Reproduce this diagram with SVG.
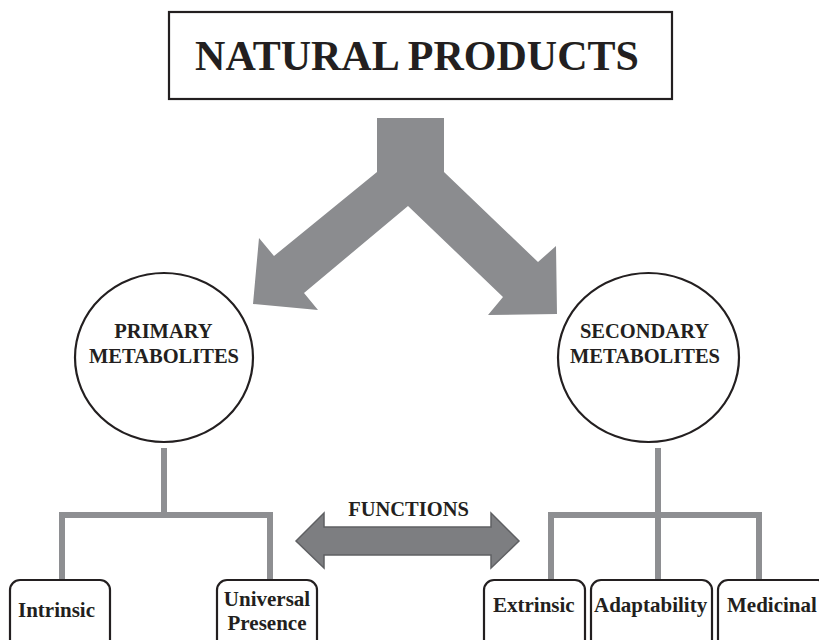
<svg xmlns="http://www.w3.org/2000/svg" width="819" height="640" viewBox="0 0 819 640">
<style>
text{font-family:"Liberation Serif","Times New Roman",serif;font-weight:bold;fill:#231f20;}
.box{fill:#fff;stroke:#231f20;stroke-width:2.2;}
.leaf{fill:#fff;stroke:#231f20;stroke-width:2.2;}
.line{stroke:#8e8f92;stroke-width:6;fill:none;stroke-linecap:butt;}
.big{fill:#8b8c8f;}
.lbl{font-size:20.5px;text-anchor:middle;}
.leaftxt{font-size:21px;}
</style>
<rect width="819" height="640" fill="#fff"/>
<g id="natural-products">
<rect class="box" x="169" y="12" width="503" height="87"/>
<text x="417" y="70" font-size="42" text-anchor="middle">NATURAL PRODUCTS</text>
</g>
<g id="connectors">
<path class="big" d="M377,118 L444,118 L444,172 L538,262 L556,246 L557,314 L488,315 L503,297 L408,206 L304,293 L318,310 L253,304 L259,238 L274,256 L377,172 Z"/>
<path class="line" d="M164,448 V515 M59,515 H273 M62,515 V579 M270,515 V579"/>
<path class="line" d="M658,448 V579 M548,515 H762 M551,515 V579 M759,515 V579"/>
<path d="M296,541 L324,513 L324,527 L491,527 L491,513 L519,541 L491,568 L491,555 L324,555 L324,568 Z" fill="#7d7e81" stroke="#5f6063" stroke-width="1.5" stroke-linejoin="miter"/>
<text class="lbl" x="408.5" y="516">FUNCTIONS</text>
</g>
<g id="primary">
<ellipse cx="164" cy="357.5" rx="89" ry="84.5" fill="#fff" stroke="#231f20" stroke-width="2.2"/>
<text class="lbl" x="163.5" y="338">PRIMARY</text>
<text class="lbl" x="164" y="363">METABOLITES</text>
</g>
<g id="secondary">
<ellipse cx="648.5" cy="357.5" rx="90.5" ry="84.5" fill="#fff" stroke="#231f20" stroke-width="2.2"/>
<text class="lbl" x="644.5" y="338">SECONDARY</text>
<text class="lbl" x="645" y="363">METABOLITES</text>
</g>
<g id="intrinsic">
<rect class="leaf" x="10" y="580" width="100" height="75" rx="10"/>
<text class="leaftxt" x="18" y="617">Intrinsic</text>
</g>
<g id="universal-presence">
<rect class="leaf" x="217" y="580" width="100" height="75" rx="10"/>
<text class="leaftxt" x="267" y="606" text-anchor="middle">Universal</text>
<text class="leaftxt" x="267" y="630" text-anchor="middle">Presence</text>
</g>
<g id="extrinsic">
<rect class="leaf" x="484" y="580" width="101" height="75" rx="10"/>
<text class="leaftxt" x="493" y="612">Extrinsic</text>
</g>
<g id="adaptability">
<rect class="leaf" x="591" y="580" width="121" height="75" rx="10"/>
<text class="leaftxt" x="594" y="612">Adaptability</text>
</g>
<g id="medicinal">
<rect class="leaf" x="718" y="580" width="110" height="75" rx="10"/>
<text class="leaftxt" x="727" y="612">Medicinal</text>
</g>
</svg>
